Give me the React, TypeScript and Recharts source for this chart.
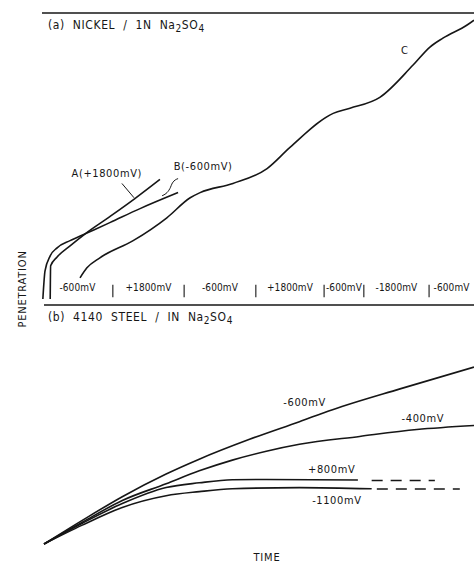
import React from "react";
import { LineChart, Line, XAxis, YAxis, ReferenceLine, ReferenceDot } from "recharts";

// time and penetration are in arbitrary units (0..100)
const INK = "#161616";
const FONT = "'DejaVu Sans Condensed', 'Liberation Sans Narrow', sans-serif";

// (a) nickel
const nickelA = [
  { t: 1.9, p: 0 }, { t: 2.0, p: 11.6 }, { t: 3.5, p: 14.7 }, { t: 6.5, p: 18.6 },
  { t: 10.0, p: 22.8 }, { t: 15.7, p: 28.8 }, { t: 21.5, p: 35.1 }, { t: 27.3, p: 41.8 },
];
const nickelB = [
  { t: 0.2, p: 0 }, { t: 0.7, p: 9.8 }, { t: 1.9, p: 15.1 }, { t: 3.5, p: 17.9 },
  { t: 6.5, p: 20.4 }, { t: 10.0, p: 22.8 }, { t: 15.7, p: 26.7 }, { t: 22.7, p: 31.6 },
  { t: 31.5, p: 37.2 },
];
const nickelC = [
  { t: 8.8, p: 7.4 }, { t: 10.4, p: 10.9 }, { t: 13.4, p: 14.4 }, { t: 21.1, p: 20.4 },
  { t: 28.9, p: 28.4 }, { t: 34.3, p: 35.4 }, { t: 36.6, p: 37.2 }, { t: 44.2, p: 40.4 },
  { t: 52.1, p: 45.6 }, { t: 57.4, p: 53.0 }, { t: 67.4, p: 64.9 }, { t: 71.3, p: 66.7 },
  { t: 78.2, p: 70.5 }, { t: 85.9, p: 81.8 }, { t: 89.8, p: 88.1 }, { t: 92.8, p: 91.2 },
  { t: 98.4, p: 95.8 }, { t: 100, p: 97.5 },
];
const leaderB = [
  { t: 31.5, p: 42.1 }, { t: 30.2, p: 40.6 }, { t: 29.6, p: 38.6 }, { t: 27.8, p: 36.1 },
];

// potential steps along the nickel run
const stepBounds = [16.4, 32.9, 49.5, 65.3, 74.5, 89.6];
const stepLabels = ["-600mV", "+1800mV", "-600mV", "+1800mV", "-600mV", "-1800mV", "-600mV"];

// (b) 4140 steel
const steel600 = [
  { t: 0, p: 0 }, { t: 8.9, p: 9.9 }, { t: 18.2, p: 19.8 }, { t: 28.4, p: 29.3 },
  { t: 36.1, p: 35.5 }, { t: 47.8, p: 43.8 }, { t: 59.4, p: 51.2 }, { t: 67.1, p: 56.2 },
  { t: 82.8, p: 64.9 }, { t: 100, p: 74.0 },
];
const steel400 = [
  { t: 0, p: 0 }, { t: 8.9, p: 9.1 }, { t: 18.2, p: 18.2 }, { t: 28.4, p: 25.2 },
  { t: 36.1, p: 30.6 }, { t: 43.8, p: 35.1 }, { t: 51.7, p: 38.8 }, { t: 59.4, p: 41.7 },
  { t: 73.4, p: 45.0 }, { t: 86.7, p: 47.9 }, { t: 100, p: 49.6 },
];
const steel800 = [
  { t: 0, p: 0 }, { t: 8.9, p: 8.7 }, { t: 18.2, p: 16.9 }, { t: 28.4, p: 23.6 },
  { t: 36.1, p: 25.6 }, { t: 43.8, p: 26.9 }, { t: 51.7, p: 27.0 }, { t: 73.0, p: 26.8 },
];
const steel800Dash = [{ t: 76.2, p: 26.6 }, { t: 90.9, p: 26.6 }];
const steel1100 = [
  { t: 0, p: 0 }, { t: 8.9, p: 7.9 }, { t: 18.2, p: 15.3 }, { t: 28.4, p: 20.2 },
  { t: 36.1, p: 21.9 }, { t: 43.8, p: 23.1 }, { t: 59.4, p: 23.6 }, { t: 76.2, p: 23.1 },
];
const steel1100Dash = [{ t: 77.4, p: 23.0 }, { t: 96.7, p: 23.0 }];

const lbl = (value: string, size = 11, spacing = 0.6) => ({
  value,
  position: "center" as const,
  fill: INK,
  fontSize: size,
  fontFamily: FONT,
  letterSpacing: spacing,
});

const axisLine = { stroke: INK, strokeWidth: 1.3 };

function Title({ top, children }: { top: number; children: React.ReactNode }) {
  return (
    <div
      style={{
        position: "absolute",
        left: 48,
        top,
        fontFamily: FONT,
        fontSize: 12,
        color: INK,
        wordSpacing: 4,
        letterSpacing: 0.6,
        whiteSpace: "nowrap",
      }}
    >
      {children}
    </div>
  );
}

export default function App() {
  const edges = [0, ...stepBounds, 100];
  return (
    <div style={{ position: "absolute", left: 0, top: 0, width: 474, height: 563, background: "#fff", overflow: "hidden" }}>
      <div style={{ position: "absolute", left: 0, top: 0 }}>
        <LineChart width={474} height={301} margin={{ top: 13, right: 0, left: 42, bottom: 2 }}>
          <XAxis type="number" dataKey="t" domain={[0, 100]} tick={false} tickLine={false} height={0} axisLine={axisLine} allowDuplicatedCategory={false} />
          <YAxis type="number" dataKey="p" domain={[0, 100]} tick={false} tickLine={false} width={0} axisLine={axisLine} />
          <ReferenceLine y={100} stroke={INK} strokeWidth={1.3} />
          <Line data={nickelA} dataKey="p" type="monotone" stroke={INK} strokeWidth={1.6} dot={false} isAnimationActive={false} />
          <Line data={nickelB} dataKey="p" type="monotone" stroke={INK} strokeWidth={1.6} dot={false} isAnimationActive={false} />
          <Line data={nickelC} dataKey="p" type="monotone" stroke={INK} strokeWidth={1.6} dot={false} isAnimationActive={false} />
          <Line data={leaderB} dataKey="p" type="monotone" stroke={INK} strokeWidth={1} dot={false} isAnimationActive={false} />
          <ReferenceLine segment={[{ x: 18.5, y: 40.4 }, { x: 21.3, y: 35.4 }]} stroke={INK} strokeWidth={1} />
          {stepBounds.map((b) => (
            <ReferenceLine key={b} segment={[{ x: b, y: 0.6 }, { x: b, y: 5 }]} stroke={INK} strokeWidth={1.1} />
          ))}
          {stepLabels.map((s, i) => (
            <ReferenceDot key={i} x={(edges[i] + edges[i + 1]) / 2} y={4} r={0} fill="none" stroke="none" label={lbl(s, 10, 0.1)} />
          ))}
          <ReferenceDot x={15.0} y={43.9} r={0} fill="none" stroke="none" label={lbl("A(+1800mV)")} />
          <ReferenceDot x={37.3} y={46.3} r={0} fill="none" stroke="none" label={lbl("B(-600mV)")} />
          <ReferenceDot x={84.0} y={87.0} r={0} fill="none" stroke="none" label={lbl("C")} />
        </LineChart>
      </div>
      <div style={{ position: "absolute", left: 0, top: 300 }}>
        <LineChart width={474} height={250} margin={{ top: 5, right: 0, left: 44, bottom: 6 }}>
          <XAxis type="number" dataKey="t" domain={[0, 100]} tick={false} tickLine={false} height={0} axisLine={axisLine} allowDuplicatedCategory={false} />
          <YAxis type="number" dataKey="p" domain={[0, 100]} tick={false} tickLine={false} width={0} axisLine={axisLine} />
          <ReferenceLine y={100} stroke={INK} strokeWidth={1.3} />
          <Line data={steel600} dataKey="p" type="monotone" stroke={INK} strokeWidth={1.6} dot={false} isAnimationActive={false} />
          <Line data={steel400} dataKey="p" type="monotone" stroke={INK} strokeWidth={1.6} dot={false} isAnimationActive={false} />
          <Line data={steel800} dataKey="p" type="monotone" stroke={INK} strokeWidth={1.6} dot={false} isAnimationActive={false} />
          <Line data={steel1100} dataKey="p" type="monotone" stroke={INK} strokeWidth={1.6} dot={false} isAnimationActive={false} />
          <Line data={steel800Dash} dataKey="p" type="linear" stroke={INK} strokeWidth={1.6} strokeDasharray="11 8" dot={false} isAnimationActive={false} />
          <Line data={steel1100Dash} dataKey="p" type="linear" stroke={INK} strokeWidth={1.6} strokeDasharray="11 8" dot={false} isAnimationActive={false} />
          <ReferenceDot x={60.6} y={59.5} r={0} fill="none" stroke="none" label={lbl("-600mV")} />
          <ReferenceDot x={88.1} y={52.5} r={0} fill="none" stroke="none" label={lbl("-400mV")} />
          <ReferenceDot x={66.9} y={31.4} r={0} fill="none" stroke="none" label={lbl("+800mV")} />
          <ReferenceDot x={68.1} y={18.2} r={0} fill="none" stroke="none" label={lbl("-1100mV")} />
        </LineChart>
      </div>
      <Title top={18}>
        (a) NICKEL / 1N Na<sub style={{ fontSize: 10 }}>2</sub>SO<sub style={{ fontSize: 10 }}>4</sub>
      </Title>
      <Title top={310}>
        (b) 4140 STEEL / IN Na<sub style={{ fontSize: 10 }}>2</sub>SO<sub style={{ fontSize: 10 }}>4</sub>
      </Title>
      <div
        style={{
          position: "absolute",
          left: 22,
          top: 289,
          transform: "translate(-50%, -50%) rotate(-90deg)",
          fontFamily: FONT,
          fontSize: 11,
          letterSpacing: 0.8,
          color: INK,
          whiteSpace: "nowrap",
        }}
      >
        PENETRATION
      </div>
      <div
        style={{
          position: "absolute",
          left: 267,
          top: 557,
          transform: "translate(-50%, -50%)",
          fontFamily: FONT,
          fontSize: 11,
          letterSpacing: 0.8,
          color: INK,
        }}
      >
        TIME
      </div>
    </div>
  );
}
